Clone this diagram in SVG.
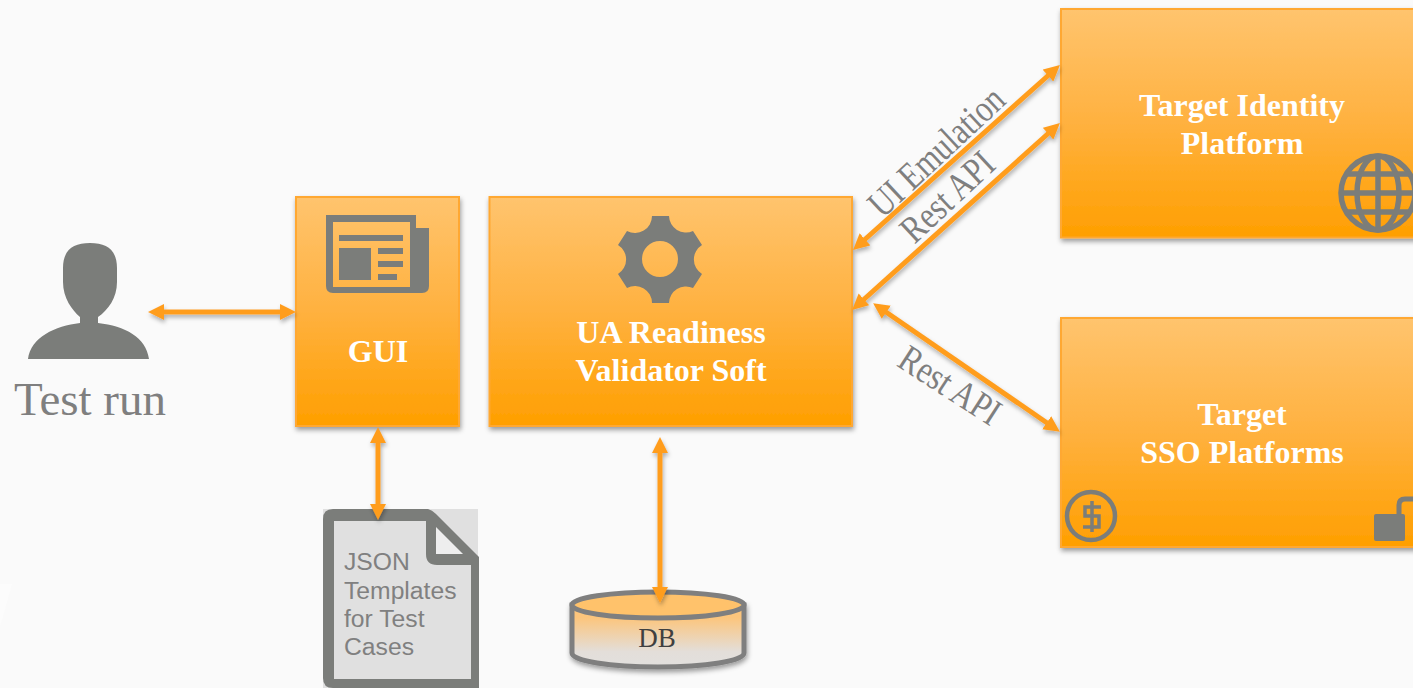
<svg xmlns="http://www.w3.org/2000/svg" width="1413" height="688" viewBox="0 0 1413 688">
<defs>
<linearGradient id="box" x1="0" y1="0" x2="0" y2="1"><stop offset="0" stop-color="#ffc46e"/><stop offset="0.5" stop-color="#ffb13f"/><stop offset="1" stop-color="#ff9f00"/></linearGradient>
<linearGradient id="db" x1="0" y1="0" x2="0" y2="1"><stop offset="0.2" stop-color="#fcc57c"/><stop offset="0.75" stop-color="#e3ded9"/><stop offset="1" stop-color="#e2e0de"/></linearGradient>
<filter id="sh" x="-20%" y="-20%" width="140%" height="140%"><feDropShadow dx="1" dy="3" stdDeviation="2.5" flood-color="#000" flood-opacity="0.38"/></filter>
<filter id="ash" x="-20%" y="-20%" width="140%" height="140%"><feDropShadow dx="1" dy="3" stdDeviation="2" flood-color="#000" flood-opacity="0.3"/></filter>
<marker id="ah" viewBox="0 0 4 4" refX="1" refY="2" markerUnits="userSpaceOnUse" markerWidth="16" markerHeight="16" orient="auto-start-reverse"><path d="M0 0L4 2L0 4Z" fill="#ff9d1f"/></marker>
<clipPath id="page"><rect width="1413" height="688"/></clipPath>
</defs>
<style>
.box{fill:url(#box);stroke:#ffa832;stroke-width:2;filter:url(#sh)}
.t{font-family:"Liberation Serif",serif;font-weight:bold;font-size:32px;fill:#fff;text-anchor:middle}
.lab{font-family:"Liberation Serif",serif;font-size:34px;fill:#7f7f7f;text-anchor:middle}
.ic{fill:#7b7d7a}
.ln{fill:none;stroke:#7b7d7a}
.c{stroke:#ff9d1f;stroke-width:5;fill:none;marker-start:url(#ah);marker-end:url(#ah)}
.doc{font-family:"Liberation Sans",sans-serif;font-size:24.7px;fill:#808080}
</style>
<rect width="1413" height="688" fill="#fafafa"/>
<path d="M0 584H12L2 620L0 625Z" fill="#fcfcfc"/>
<g id="person">
<path class="ic" d="M63 268C63 250 73 243 90 243C107 243 117 250 117 268V282C117 298 108 310 98 317V323C125 326 146 337 149 359H28C31 337 55 326 80 323V317C72 310 63 298 63 282Z"/>
<text x="90" y="415" style="font-family:'Liberation Serif',serif;font-size:47px;fill:#7f7f7f;text-anchor:middle">Test run</text>
</g>
<g id="gui">
<rect class="box" x="296" y="197" width="163" height="229"/>
<path class="ic" fill-rule="evenodd" d="M326 215H416V228H429V286Q429 293 422 293H333Q326 293 326 286ZM333 222V287H410V222Z"/>
<path class="ic" d="M339 235H403V241H339ZM339 248H371V280H339ZM378 248H403V254H378ZM378 261H403V267H378ZM378 274H397V280H378Z"/>
<text class="t" x="378" y="362">GUI</text>
</g>
<g id="validator">
<rect class="box" x="489.5" y="197" width="362.5" height="229"/>
<path class="ic" fill-rule="evenodd" d="M652 216H669A17 17 0 0 0 693 231L702 245A17 17 0 0 0 702 274L693 288A17 17 0 0 0 669 303H652A17 17 0 0 0 627 288L618 274A17 17 0 0 0 618 245L627 231A17 17 0 0 0 652 216ZM660 241A18 18 0 1 0 660 277A18 18 0 1 0 660 241Z"/>
<text class="t" x="671" y="343">UA Readiness</text>
<text class="t" x="671" y="381">Validator Soft</text>
</g>
<g id="identity" clip-path="url(#page)">
<rect class="box" x="1061" y="9" width="372" height="228.500"/>
<text class="t" x="1242" y="116">Target Identity</text>
<text class="t" x="1242" y="154">Platform</text>
<g class="ln" stroke-width="5.5">
<circle cx="1378" cy="193" r="37"/>
<ellipse cx="1378" cy="193" rx="21" ry="37"/>
<path d="M1378 155V231M1341 193H1415M1346 174H1410M1346 212H1410"/>
</g>
</g>
<g id="sso" clip-path="url(#page)">
<rect class="box" x="1061" y="318" width="372" height="229"/>
<text class="t" x="1242" y="425">Target</text>
<text class="t" x="1242" y="463">SSO Platforms</text>
<circle class="ln" cx="1091" cy="516" r="24" stroke-width="4.5"/>
<path class="ln" stroke-width="3.500" d="M1101 507H1085V516H1099V527H1083M1092 501V532"/>
<rect class="ic" x="1374" y="514" width="31" height="27" rx="2"/>
<path class="ln" stroke-width="5" d="M1399 514V505Q1399 499 1405 499H1415"/>
</g>
<g id="json">
<rect x="323" y="509" width="155" height="179" fill="#e0e0e0"/>
<path class="ic" d="M333 509H428Q432 510 436 514L479 557V688H333Q323 688 323 678V519Q323 509 333 509Z"/>
<path d="M334 521H426V554Q426 565 437 565H471V679H334Z" fill="#e0e0e0"/>
<path d="M436 527L463 554H436Z" fill="#eeeeee"/>
<text class="doc" x="344" y="570">JSON</text>
<text class="doc" x="344" y="599">Templates</text>
<text class="doc" x="344" y="627">for Test</text>
<text class="doc" x="344" y="655">Cases</text>
</g>
<g id="db-node">
<path d="M572 605V653C572 661 610 667 658 667C706 667 744 661 744 653V605Z" fill="url(#db)" stroke="#7f7f7f" stroke-width="5" filter="url(#sh)"/>
<ellipse cx="658" cy="605" rx="86" ry="13" fill="#ffc26b" stroke="#7f7f7f" stroke-width="5"/>
<text x="657" y="647" style="font-family:'Liberation Serif',serif;font-size:27px;fill:#404040;text-anchor:middle">DB</text>
</g>
<g id="connectors" filter="url(#ash)">
<line class="c" x1="160" y1="312" x2="284" y2="312"/>
<line class="c" x1="378" y1="439" x2="378" y2="508"/>
<line class="c" x1="660" y1="449" x2="660" y2="591"/>
<line class="c" x1="1051" y1="73" x2="862" y2="242"/>
<line class="c" x1="1051" y1="131" x2="861" y2="302"/>
<line class="c" x1="883" y1="310" x2="1050" y2="425"/>
</g>
<g id="labels">
<text class="lab" transform="translate(945 161) rotate(-43) scale(.92 1.13)">UI Emulation</text>
<text class="lab" transform="translate(956 206) rotate(-43) scale(.93 1.13)">Rest API</text>
<text class="lab" transform="translate(943 396) rotate(33) scale(.93 1.13)">Rest API</text>
</g>
</svg>
